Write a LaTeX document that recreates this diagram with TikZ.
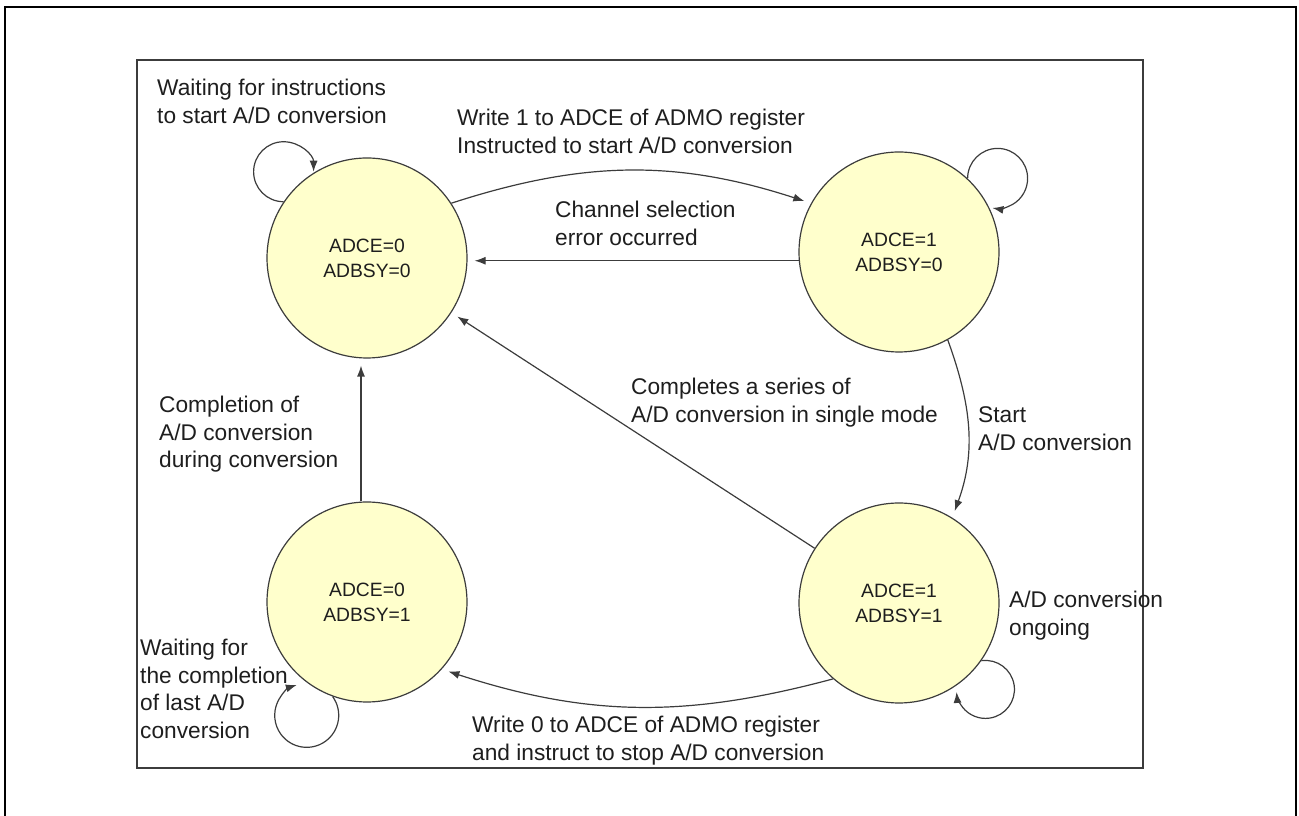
\documentclass[tikz,border=0pt]{standalone}
\usepackage{fontspec}
\setmainfont{Liberation Sans}
\usetikzlibrary{arrows.meta,calc}
\definecolor{statefill}{RGB}{255,255,204}
\definecolor{linegray}{RGB}{60,60,60}
\definecolor{txt}{RGB}{30,30,30}
\pgfdeclarelayer{background}
\pgfsetlayers{background,main}
\begin{document}
\begin{tikzpicture}[x=1pt,y=1pt,
  state/.style={circle, draw=linegray, line width=1.2pt, fill=statefill, minimum size=200pt, inner sep=0pt, align=center, font=\fontsize{19.3}{25}\selectfont, text=txt},
  lbl/.style={anchor=base west, align=left, inner sep=0pt, font=\fontsize{22.7}{27.5}\selectfont, text=txt},
  arr/.style={draw=linegray, line width=1.2pt, -{Latex[length=11pt,width=8pt]}, shorten >=7pt},
  loopline/.style={draw=linegray, line width=1.2pt, -{Latex[length=11pt,width=8pt]}},
]
\useasboundingbox (0,0) rectangle (1299,816);
\draw[line width=2.5pt, black] (5,0) -- (5,809) -- (1296,809) -- (1296,0);
\draw[line width=1.6pt, linegray] (137,48) rectangle (1143,756);

% states
\node[state] (TL) at (367,558) {ADCE=0\\ADBSY=0};
\node[state] (TR) at (899,564) {ADCE=1\\ADBSY=0};
\node[state] (BL) at (367,214) {ADCE=0\\ADBSY=1};
\node[state] (BR) at (899,213) {ADCE=1\\ADBSY=1};

% self loops (behind the states)
\begin{pgfonlayer}{background}
\draw[loopline] (TL.146) arc[start angle=-90, end angle=-360, radius=30];
\draw[loopline] (TR.47) arc[start angle=180, end angle=-100, radius=30];
\draw[loopline] (BL.-110) arc[start angle=36, end angle=-252, radius=32];
\draw[loopline] (BR.-35) arc[start angle=98, end angle=-175, radius=29];
\end{pgfonlayer}

% transitions
\draw[arr] (TL.33) to[out=18, in=162] (TR.151);
\draw[arr] (TR.185) -- (TL.east |- TR.185);
\draw[arr] (TR.-61) to[out=-70, in=70] (BR.58);
\draw[arr] (BR.-131) to[out=-165, in=-18] (BL.-42);
\draw[arr] (BR) -- (TL);
\draw[arr] ($(BL.north)+(-6,0)$) -- ($(TL.south)+(-6,0)$);

% labels (anchor = baseline of the last line)
\node[lbl] (l1) at (157,692.5) {Waiting for instructions\\to start A/D conversion};
\node[lbl] (l2) at (457,662.5) {Write 1 to ADCE of ADMO register\\Instructed to start A/D conversion};
\node[lbl] (l3) at (555,570.5) {Channel selection\\error occurred};
\node[lbl] (l4) at (631,393.5) {Completes a series of\\A/D conversion in single mode};
\node[lbl] (l5) at (978,365.5) {Start\\A/D conversion};
\node[lbl] (l6) at (159,348) {Completion of\\A/D conversion\\during conversion};
\node[lbl] (l7) at (1009,180.5) {A/D conversion\\ongoing};
\node[lbl] (l8) at (140,77.5) {Waiting for\\the completion\\of last A/D\\conversion};
\node[lbl] (l9) at (472,55.5) {Write 0 to ADCE of ADMO register\\and instruct to stop A/D conversion};
\end{tikzpicture}
\end{document}
